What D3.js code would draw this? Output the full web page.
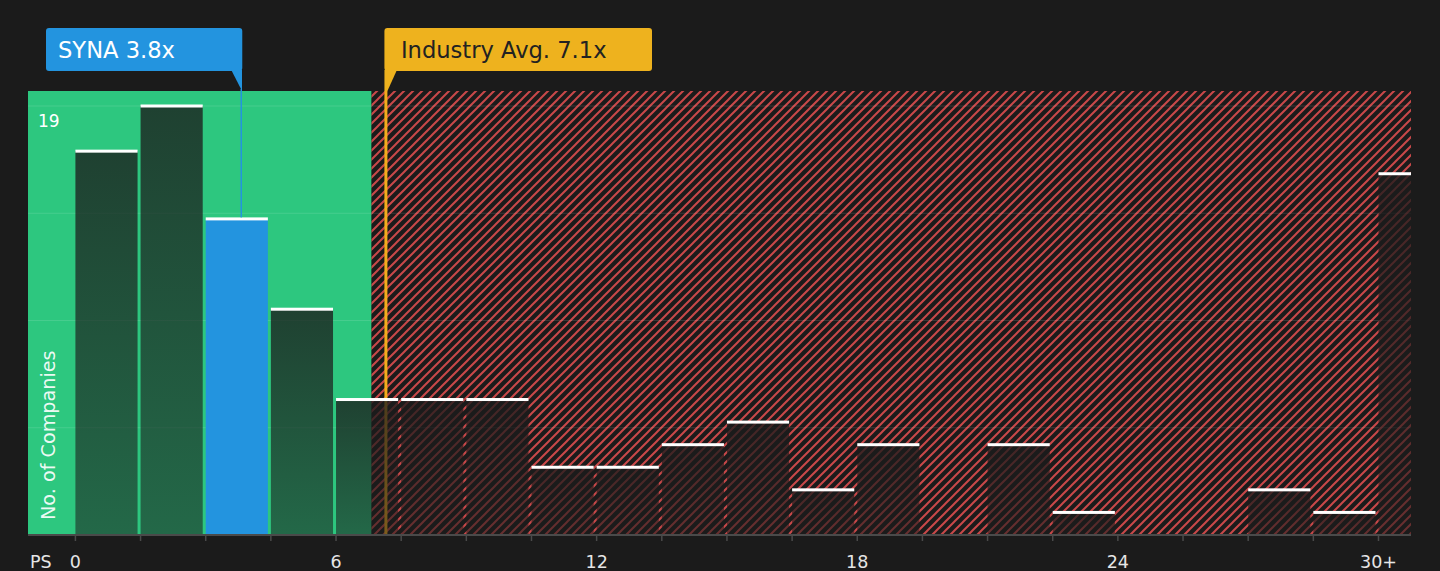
<!DOCTYPE html>
<html>
<head>
<meta charset="utf-8">
<script src="https://cdn.jsdelivr.net/npm/d3@7"></script>
<style>
  html, body { margin: 0; padding: 0; background: #1b1b1b; }
  svg { display: block; font-family: "DejaVu Sans", sans-serif; }
</style>
</head>
<body>
<div id="chart"></div>
<script>
// PS histogram, bins of 1.5x, last bin is 30+
var binStart = [0, 1.5, 3, 4.5, 6, 7.5, 9, 10.5, 12, 13.5, 15, 16.5, 18, 19.5, 21, 22.5, 24, 25.5, 27, 28.5, 30];
var counts   = [17, 19, 14, 10, 6, 6, 6, 3, 3, 4, 5, 2, 4, 0, 4, 1, 0, 0, 2, 1, 16];
var tickValues = [0, 6, 12, 18, 24, 30];
var tickLabels = ["0", "6", "12", "18", "24", "30+"];
var binWidth = 1.5;

var companyValue = 3.83;       // SYNA
var companyLabel = "SYNA 3.8x";
var industryValue = 7.16;
var industryLabel = "Industry Avg. 7.1x";
var fairLimit = 6.83;          // end of green zone
var highlightBin = 2;

document.addEventListener('DOMContentLoaded', function() {
  draw();
});

function draw(){
  var W = 1440, H = 571;
  var plot = {left: 28, right: 1411, top: 91, bottom: 535};

  var svg = d3.select("#chart").append("svg")
    .attr("width", W)
    .attr("height", H);

  svg.append("rect").attr("width", W).attr("height", H).attr("fill", "#1b1b1b");

  var x = d3.scaleLinear()
    .domain([-1.08, 30.76])
    .range([plot.left, plot.right]);
  var yMax = d3.max(counts);
  var y = d3.scaleLinear()
    .domain([0, yMax])
    .range([plot.bottom, 106]);

  var defs = svg.append("defs");

  // red hatch
  var hs = 9;
  var pat = defs.append("pattern")
    .attr("id", "hatch")
    .attr("patternUnits", "userSpaceOnUse")
    .attr("width", hs).attr("height", hs);
  pat.append("rect").attr("width", hs).attr("height", hs).attr("fill", "#1b1b1b");
  pat.append("path")
    .attr("d", "M-2,2 l4,-4 M0," + hs + " l" + hs + ",-" + hs + " M" + (hs - 2) + "," + (hs + 2) + " l4,-4")
    .attr("stroke", "#c94849")
    .attr("stroke-width", 2);

  var grad = defs.append("linearGradient")
    .attr("id", "barfill")
    .attr("x1", 0).attr("y1", 0).attr("x2", 0).attr("y2", 1);
  grad.append("stop").attr("offset", "0%").attr("stop-color", "#1b1b1b").attr("stop-opacity", 0.78);
  grad.append("stop").attr("offset", "100%").attr("stop-color", "#1b1b1b").attr("stop-opacity", 0.55);

  defs.append("clipPath").attr("id", "plotclip")
    .append("rect")
      .attr("x", plot.left).attr("y", plot.top)
      .attr("width", plot.right - plot.left)
      .attr("height", plot.bottom - plot.top);

  var g = svg.append("g").attr("clip-path", "url(#plotclip)");

  // zones
  g.append("rect")
    .attr("x", plot.left).attr("y", plot.top)
    .attr("width", x(fairLimit) - plot.left)
    .attr("height", plot.bottom - plot.top)
    .attr("fill", "#2dc77f");
  g.append("rect")
    .attr("x", x(fairLimit)).attr("y", plot.top)
    .attr("width", plot.right - x(fairLimit))
    .attr("height", plot.bottom - plot.top)
    .attr("fill", "url(#hatch)");

  // gridlines at quarters of the max
  g.selectAll("line.grid")
    .data([0.25, 0.5, 0.75, 1].map(function(f){ return f * yMax; }))
    .enter().append("line")
      .attr("class", "grid")
      .attr("x1", plot.left).attr("x2", plot.right)
      .attr("y1", function(d){ return y(d); })
      .attr("y2", function(d){ return y(d); })
      .attr("stroke", "#ffffff")
      .attr("stroke-opacity", 0.12)
      .attr("stroke-width", 1);

  // industry avg line (under the bars)
  g.append("line")
    .attr("x1", x(industryValue)).attr("x2", x(industryValue))
    .attr("y1", plot.top).attr("y2", plot.bottom)
    .attr("stroke", "#f2ad1c")
    .attr("stroke-width", 3);

  var data = binStart.map(function(s, i){ return {start: s, count: counts[i], i: i}; });

  g.selectAll("rect.bar")
    .data(data.filter(function(d){ return d.count > 0; }))
    .enter().append("rect")
      .attr("class", "bar")
      .attr("x", function(d){ return x(d.start) + 0.5; })
      .attr("width", function(d){ return x(d.start + binWidth) - x(d.start) - 3; })
      .attr("y", function(d){ return y(d.count); })
      .attr("height", function(d){ return plot.bottom - y(d.count); })
      .attr("fill", function(d){ return d.i == highlightBin ? "#2394df" : "url(#barfill)"; });

  g.selectAll("rect.cap")
    .data(data.filter(function(d){ return d.count > 0; }))
    .enter().append("rect")
      .attr("class", "cap")
      .attr("x", function(d){ return x(d.start) + 0.5; })
      .attr("width", function(d){ return x(d.start + binWidth) - x(d.start) - 3; })
      .attr("y", function(d){ return y(d.count) - 1.5; })
      .attr("height", 3)
      .attr("fill", "#ffffff");

  // company line
  var hb = data[highlightBin];
  svg.append("line")
    .attr("x1", x(companyValue)).attr("x2", x(companyValue))
    .attr("y1", plot.top - 2).attr("y2", y(hb.count) - 1.5)
    .attr("stroke", "#2394df")
    .attr("stroke-width", 1.5);

  // x axis
  var edges = binStart.slice();
  var axis = svg.append("g")
    .attr("transform", "translate(0," + plot.bottom + ")")
    .call(d3.axisBottom(x)
      .tickValues(edges)
      .tickSize(6)
      .tickPadding(15)
      .tickFormat(function(d){
        var k = tickValues.indexOf(d);
        return k >= 0 ? tickLabels[k] : "";
      }));
  axis.select(".domain")
    .attr("d", "M" + plot.left + ",0H" + plot.right)
    .attr("stroke", "#4a4a4a")
    .attr("stroke-width", 2);
  axis.selectAll(".tick line").attr("stroke", "#4a4a4a").attr("stroke-width", 1.5);
  axis.selectAll(".tick text")
    .attr("fill", "#e6e6e6")
    .style("font-size", "17.5px")
    .style("font-family", "DejaVu Sans, sans-serif");

  svg.append("text")
    .attr("x", 30).attr("y", plot.bottom + 21)
    .attr("dy", "0.71em")
    .attr("fill", "#e6e6e6")
    .style("font-size", "17.5px")
    .text("PS");

  // y labels
  svg.append("text")
    .attr("x", 38).attr("y", 127)
    .attr("fill", "#ffffff")
    .style("font-size", "17px")
    .text(yMax);

  svg.append("text")
    .attr("transform", "translate(55,520) rotate(-90)")
    .attr("fill", "#ffffff")
    .attr("fill-opacity", 0.92)
    .style("font-size", "19.2px")
    .text("No. of Companies");

  // company callout
  var cx = x(companyValue);
  svg.append("rect")
    .attr("x", 46).attr("y", 28)
    .attr("width", cx + 1 - 46).attr("height", 43)
    .attr("rx", 3)
    .attr("fill", "#2394df");
  svg.append("path")
    .attr("d", "M" + (cx - 10) + ",70 L" + (cx + 0.75) + ",70 L" + (cx + 0.75) + "," + plot.top + " Z")
    .attr("fill", "#2394df");
  svg.append("text")
    .attr("x", 58).attr("y", 58)
    .attr("fill", "#ffffff")
    .style("font-size", "22.6px")
    .text(companyLabel);

  // industry callout
  var ix = x(industryValue);
  svg.append("rect")
    .attr("x", ix - 1.5).attr("y", 28)
    .attr("width", 652 - (ix - 1.5)).attr("height", 43)
    .attr("rx", 3)
    .attr("fill", "#eeb21e");
  svg.append("path")
    .attr("d", "M" + (ix - 1.5) + ",70 L" + (ix + 11) + ",70 L" + (ix + 1.5) + "," + plot.top + " L" + (ix - 1.5) + "," + plot.top + " Z")
    .attr("fill", "#eeb21e");
  svg.append("text")
    .attr("x", ix + 15).attr("y", 58)
    .attr("fill", "#222222")
    .style("font-size", "22.6px")
    .text(industryLabel);
}
</script>
</body>
</html>
